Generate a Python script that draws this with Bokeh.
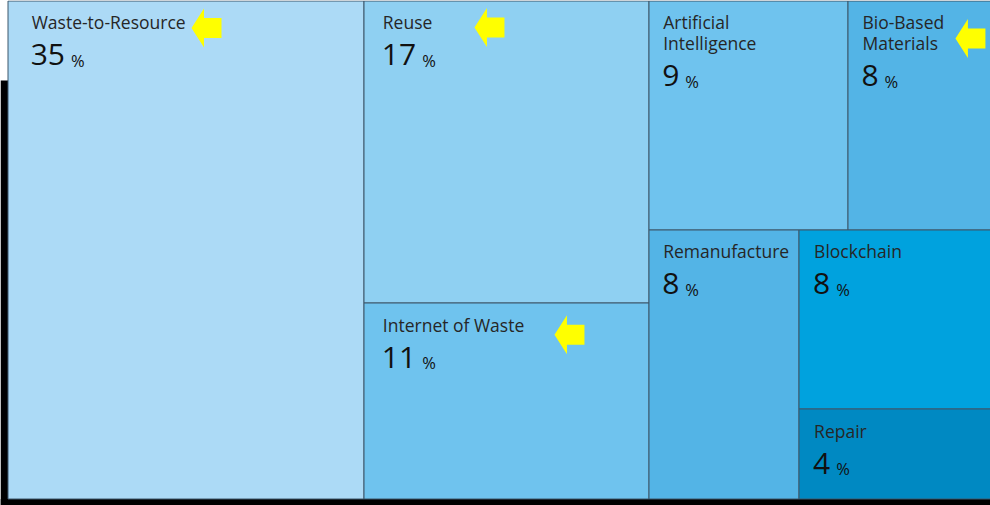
from bokeh.plotting import figure
from bokeh.models import Range1d, ColumnDataSource
from bokeh.core.properties import value
from bokeh.embed import file_html
from bokeh.resources import INLINE

# ---------------- data ----------------
categories = ["Waste-to-Resource", "Reuse", "Internet of Waste", "Artificial Intelligence",
              "Bio-Based Materials", "Remanufacture", "Blockchain", "Repair"]
shares = [35, 17, 11, 9, 8, 8, 8, 4]
colors = ["#acdaf6", "#8fd0f2", "#6fc3ee", "#6fc3ee", "#53b4e6", "#53b4e6", "#00a2de", "#0089c2"]
highlighted = ["Waste-to-Resource", "Reuse", "Internet of Waste", "Bio-Based Materials"]

# ---------------- layout / style ----------------
FIG_W, FIG_H = 990, 505
TM_X, TM_Y, TM_W, TM_H = 7, 0, 1017, 498      # treemap box in pixels (extends past the view)
BORDER = "#3d566a"
LABEL_SIZE, VALUE_SIZE, PCT_SIZE = 17.5, 30, 16.5
CHAR_W = 8.9            # approx. label advance per character
LINE_H = 20.5
BASE_SHIFT = 0.42       # renderer places glyph baseline this many em below y
# arrow annotation placement relative to its cell (tip dx, centre dy)
ARROW_POS = {"Waste-to-Resource": (184, 27.5), "Reuse": (111, 27),
             "Internet of Waste": (191, 32), "Bio-Based Materials": (108, 38)}


def worst(row, side):
    s = sum(row)
    return max(max(side * side * r / (s * s), (s * s) / (side * side * r)) for r in row)


def squarify(vals, x, y, dx, dy):
    total = float(sum(vals))
    areas = [v / total * dx * dy for v in vals]
    rects = []
    i = 0
    while i < len(areas):
        side = min(dx, dy)
        row = [areas[i]]
        j = i + 1
        while j < len(areas) and worst(row + [areas[j]], side) <= worst(row, side):
            row.append(areas[j])
            j += 1
        s = sum(row)
        if dx >= dy:
            w = s / dy
            yy = y
            for a in row:
                h = a / w
                rects.append((x, yy, w, h))
                yy += h
            x += w
            dx -= w
        else:
            h = s / dx
            xx = x
            for a in row:
                w = a / h
                rects.append((xx, y, w, h))
                xx += w
            y += h
            dy -= h
        i = j
    return rects


def snap(v):
    return round(v) + 0.5


rects = squarify(shares, TM_X, TM_Y, TM_W, TM_H)

p = figure(width=FIG_W, height=FIG_H,
           x_range=Range1d(0, FIG_W), y_range=Range1d(FIG_H, 0),
           output_backend="svg", toolbar_location=None, min_border=0,
           x_axis_location=None, y_axis_location=None, outline_line_color=None,
           background_fill_color="white", border_fill_color="white")
p.grid.visible = False

# dark backdrop strips (left and bottom)
p.quad(left=[0, 0], right=[TM_X + 0.5, FIG_W], top=[80, TM_Y + TM_H + 0.5],
       bottom=[FIG_H + 10, FIG_H + 10], fill_color="black", line_color=None)

lefts, rights, tops, bottoms = [], [], [], []
for (x, y, w, h) in rects:
    lefts.append(snap(x))
    rights.append(snap(x + w))
    tops.append(snap(y))
    bottoms.append(snap(y + h))

src = ColumnDataSource(dict(left=lefts, right=rights, top=tops, bottom=bottoms,
                            color=colors, cat=categories))
p.quad(left="left", right="right", top="top", bottom="bottom", source=src,
       fill_color="color", line_color=BORDER, line_width=1)

# labels
lx, ly, lt = [], [], []
vx, vy, vt = [], [], []
px, py = [], []
for cat, val, (x, y, w, h) in zip(categories, shares, rects):
    pad = max(15.0, 0.068 * w)
    avail = w - 2 * pad
    words = cat.split(" ")
    lines, cur = [], ""
    for wd in words:
        trial = (cur + " " + wd).strip()
        if cur and len(trial) * CHAR_W > avail:
            lines.append(cur)
            cur = wd
        else:
            cur = trial
    lines.append(cur)
    for k, ln in enumerate(lines):
        lx.append(x + pad)
        ly.append(y + 29.3 + k * LINE_H - BASE_SHIFT * LABEL_SIZE)
        lt.append(ln)
    base = y + 67 + (len(lines) - 1) * LINE_H
    s = str(val)
    vx.append(x + pad - 1)
    vy.append(base - BASE_SHIFT * VALUE_SIZE)
    vt.append(s)
    px.append(x + pad + len(s) * 0.572 * VALUE_SIZE + 5)
    py.append(base - BASE_SHIFT * PCT_SIZE)

p.text(x=lx, y=ly, text=lt, text_font=value("Open Sans"), text_font_size=f"{LABEL_SIZE}px",
       text_color="#262626", text_baseline="alphabetic", text_align="left")
p.text(x=vx, y=vy, text=vt, text_font=value("Open Sans"), text_font_size=f"{VALUE_SIZE}px",
       text_color="#111111", text_baseline="alphabetic", text_align="left")
p.text(x=px, y=py, text=["%"] * len(px), text_font=value("Open Sans"),
       text_font_size=f"{PCT_SIZE}px", text_color="#111111",
       text_baseline="alphabetic", text_align="left")

# yellow arrows
axs, ays = [], []
for cat in highlighted:
    i = categories.index(cat)
    x, y, w, h = rects[i]
    dx, dy = ARROW_POS[cat]
    tx, cy = x + dx, y + dy
    axs.append([tx, tx + 12.5, tx + 12.5, tx + 30, tx + 30, tx + 12.5, tx + 12.5])
    ays.append([cy, cy - 19.5, cy - 10, cy - 10, cy + 10, cy + 10, cy + 19.5])
p.patches(xs=axs, ys=ays, fill_color="#ffff00", line_color=None)

open("out.html", "w").write(file_html(p, INLINE))
